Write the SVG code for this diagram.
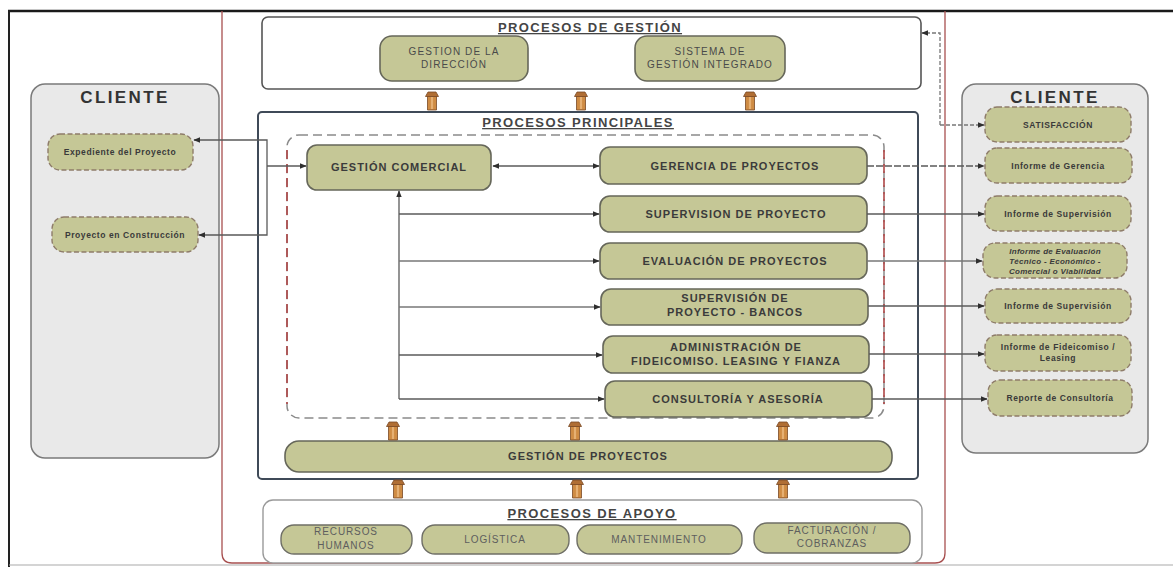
<svg xmlns="http://www.w3.org/2000/svg" xmlns:xlink="http://www.w3.org/1999/xlink" width="1173" height="567" viewBox="0 0 1173 567">
  <style>
    text { font-family: "Liberation Sans", Arial, sans-serif; fill: #3b3b3b; text-anchor: middle; }
    .node { fill: #c5c796; stroke: #66675a; stroke-width: 1.6; }
    .cnode { fill: #c5c796; stroke: #8e7c6a; stroke-width: 1.4; stroke-dasharray: 5 2.5; }
    .snode { fill: #c5c796; stroke: #6f6f66; stroke-width: 1.4; }
    .t-main { font-size: 11px; font-weight: bold; letter-spacing: 1px; }
    .t-top { font-size: 10px; letter-spacing: 1.1px; fill: #4a4a4a; }
    .t-sup { font-size: 10px; letter-spacing: 0.9px; fill: #5e5e5e; }
    .t-cli { font-size: 8.5px; font-weight: bold; letter-spacing: 0.6px; fill: #3a3a3a; }
    .t-eval { font-size: 8px; font-weight: bold; font-style: italic; letter-spacing: 0.3px; fill: #3a3a3a; }
    .t-title { font-size: 13px; font-weight: bold; letter-spacing: 1.4px; fill: #454545; text-decoration: underline; }
    .t-cliente { font-size: 17px; font-weight: bold; letter-spacing: 2.4px; fill: #333; }
    .conn { fill: none; stroke: #5a5a5a; stroke-width: 1.3; }
    .conn-l { fill: none; stroke: #777; stroke-width: 1.3; }
  </style>
  <defs>
    <marker id="ah" viewBox="0 0 10 10" refX="9" refY="5" markerWidth="7" markerHeight="7" markerUnits="userSpaceOnUse" orient="auto-start-reverse">
      <path d="M0,1 L10,5 L0,9 Z" fill="#2f2f2f"/>
    </marker>
    <g id="up-arrow">
      <path d="M-4.5,4 L4.5,4 L4.5,18 L-4.5,18 Z" fill="#cf8c44" stroke="#7a4a26" stroke-width="0.8"/>
      <path d="M-6.5,4.5 L-4,0 L4,0 L6.5,4.5 Z" fill="#b06e34" stroke="#7a4a26" stroke-width="0.8"/>
      <line x1="0" y1="5" x2="0" y2="17" stroke="#e6b073" stroke-width="2.2"/>
    </g>
  </defs>

  <rect width="1173" height="567" fill="#ffffff"/>

  <!-- outer frame -->
  <line x1="8" y1="11" x2="1173" y2="11" stroke="#1a1a1a" stroke-width="2.5"/>
  <line x1="9" y1="10" x2="9" y2="567" stroke="#222" stroke-width="2"/>
  <line x1="9" y1="565" x2="1173" y2="565" stroke="#aaa" stroke-width="1.2"/>
  <!-- organisation boundary -->
  <path d="M222,11 L222,553 Q222,563 232,563 L935,563 Q945,563 945,553 L945,11" fill="none" stroke="#a85050" stroke-width="1.3"/>

  <!-- left client panel -->
  <g id="cliente-izq">
    <rect x="31" y="84" width="188" height="374" rx="14" fill="#e9e9e9" stroke="#7a7a7a" stroke-width="1.5"/>
    <text x="125" y="103" class="t-cliente">CLIENTE</text>
  </g>
  <g id="expediente">
    <rect x="48" y="134" width="145" height="36" rx="12" class="cnode"/>
    <text x="120" y="155" class="t-cli">Expediente del Proyecto</text>
  </g>
  <g id="proyecto-construccion">
    <rect x="52" y="217" width="146" height="35" rx="12" class="cnode"/>
    <text x="125" y="238" class="t-cli">Proyecto en Construcción</text>
  </g>

  <!-- right client panel -->
  <g id="cliente-der">
    <rect x="962" y="84" width="186" height="369" rx="14" fill="#e9e9e9" stroke="#7a7a7a" stroke-width="1.5"/>
    <text x="1055" y="103" class="t-cliente">CLIENTE</text>
  </g>
  <g id="satisfaccion">
    <rect x="985" y="107" width="146" height="35" rx="12" class="cnode"/>
    <text x="1058" y="128" class="t-cli" letter-spacing="1">SATISFACCIÓN</text>
  </g>
  <g id="inf-gerencia">
    <rect x="985" y="148" width="147" height="35" rx="12" class="cnode"/>
    <text x="1058" y="169" class="t-cli">Informe de Gerencia</text>
  </g>
  <g id="inf-supervision">
    <rect x="985" y="196" width="146" height="35" rx="12" class="cnode"/>
    <text x="1058" y="217" class="t-cli">Informe de Supervisión</text>
  </g>
  <g id="inf-evaluacion">
    <rect x="983" y="243" width="144" height="35" rx="12" class="cnode"/>
    <text x="1055" y="254" class="t-eval">Informe de Evaluación</text>
    <text x="1055" y="264" class="t-eval">Técnico - Económico -</text>
    <text x="1055" y="274" class="t-eval">Comercial o Viabilidad</text>
  </g>
  <g id="inf-supervision-bancos">
    <rect x="985" y="289" width="146" height="34" rx="12" class="cnode"/>
    <text x="1058" y="309" class="t-cli">Informe de Supervisión</text>
  </g>
  <g id="inf-fideicomiso">
    <rect x="985" y="335" width="146" height="36" rx="12" class="cnode"/>
    <text x="1058" y="350" class="t-cli">Informe de Fideicomiso /</text>
    <text x="1058" y="361" class="t-cli">Leasing</text>
  </g>
  <g id="rep-consultoria">
    <rect x="988" y="380" width="144" height="36" rx="12" class="cnode"/>
    <text x="1060" y="401" class="t-cli">Reporte de Consultoría</text>
  </g>

  <!-- management processes -->
  <g id="procesos-gestion">
    <rect x="262" y="17" width="659" height="72" rx="6" fill="#fff" stroke="#555" stroke-width="1.6"/>
    <text x="590" y="32" class="t-title">PROCESOS DE GESTIÓN</text>
  </g>
  <g id="gestion-direccion">
    <rect x="380" y="36" width="148" height="45" rx="12" class="node"/>
    <text x="454" y="55" class="t-top">GESTION DE LA</text>
    <text x="454" y="68" class="t-top">DIRECCIÓN</text>
  </g>
  <g id="sistema-gestion">
    <rect x="635" y="36" width="150" height="45" rx="12" class="node"/>
    <text x="710" y="55" class="t-top">SISTEMA DE</text>
    <text x="710" y="68" class="t-top">GESTIÓN INTEGRADO</text>
  </g>

  <!-- main processes -->
  <g id="procesos-principales">
    <rect x="258" y="112" width="660" height="367" rx="4" fill="#fff" stroke="#3f4a58" stroke-width="2"/>
    <text x="578" y="127" class="t-title">PROCESOS PRINCIPALES</text>
    <rect x="287" y="135" width="597" height="283" rx="12" fill="none" stroke="#8a8a8a" stroke-width="1.5" stroke-dasharray="9 5"/>
    <line x1="287" y1="150" x2="287" y2="404" stroke="#b04848" stroke-width="1.6" stroke-dasharray="9 5"/>
    <line x1="884" y1="150" x2="884" y2="404" stroke="#b04848" stroke-width="1.6" stroke-dasharray="9 5"/>
  </g>
  <g id="gestion-comercial">
    <rect x="307" y="145" width="184" height="45" rx="10" class="node"/>
    <text x="399" y="171" class="t-main">GESTIÓN COMERCIAL</text>
  </g>
  <g id="gerencia-proyectos">
    <rect x="600" y="147" width="267" height="37" rx="10" class="node"/>
    <text x="735" y="170" class="t-main">GERENCIA DE PROYECTOS</text>
  </g>
  <g id="supervision-proyecto">
    <rect x="600" y="196" width="267" height="36" rx="10" class="node"/>
    <text x="736" y="218" class="t-main">SUPERVISION DE PROYECTO</text>
  </g>
  <g id="evaluacion-proyectos">
    <rect x="600" y="243" width="267" height="36" rx="10" class="node"/>
    <text x="735" y="265" class="t-main">EVALUACIÓN DE PROYECTOS</text>
  </g>
  <g id="supervision-bancos">
    <rect x="601" y="289" width="267" height="36" rx="10" class="node"/>
    <text x="735" y="302" class="t-main">SUPERVISIÓN DE</text>
    <text x="735" y="316" class="t-main">PROYECTO - BANCOS</text>
  </g>
  <g id="administracion-fideicomiso">
    <rect x="603" y="336" width="266" height="37" rx="10" class="node"/>
    <text x="736" y="351" class="t-main">ADMINISTRACIÓN DE</text>
    <text x="736" y="365" class="t-main">FIDEICOMISO. LEASING Y FIANZA</text>
  </g>
  <g id="consultoria-asesoria">
    <rect x="605" y="381" width="267" height="36" rx="10" class="node"/>
    <text x="738" y="403" class="t-main">CONSULTORÍA Y  ASESORÍA</text>
  </g>
  <g id="gestion-proyectos">
    <rect x="285" y="441" width="607" height="31" rx="14" class="node"/>
    <text x="588" y="460" class="t-main" font-size="10.5">GESTIÓN DE PROYECTOS</text>
  </g>

  <!-- support processes -->
  <g id="procesos-apoyo">
    <rect x="263" y="500" width="659" height="63" rx="10" fill="#fff" stroke="#9a9a9a" stroke-width="1.4"/>
    <text x="592" y="518" class="t-title" fill="#3a3a3a">PROCESOS DE APOYO</text>
  </g>
  <g id="recursos-humanos">
    <rect x="281" y="525" width="131" height="29" rx="13" class="snode"/>
    <text x="346" y="535" class="t-sup">RECURSOS</text>
    <text x="346" y="549" class="t-sup">HUMANOS</text>
  </g>
  <g id="logistica">
    <rect x="422" y="525" width="147" height="29" rx="13" class="snode"/>
    <text x="495" y="543" class="t-sup">LOGÍSTICA</text>
  </g>
  <g id="mantenimiento">
    <rect x="577" y="525" width="165" height="29" rx="13" class="snode"/>
    <text x="659" y="543" class="t-sup">MANTENIMIENTO</text>
  </g>
  <g id="facturacion">
    <rect x="754" y="523" width="156" height="30" rx="13" class="snode"/>
    <text x="832" y="534" class="t-sup">FACTURACIÓN /</text>
    <text x="832" y="547" class="t-sup">COBRANZAS</text>
  </g>

  <!-- connectors -->
  <g id="connectors">
    <!-- flow between process layers -->
    <use xlink:href="#up-arrow" href="#up-arrow" x="432" y="92"/>
    <use xlink:href="#up-arrow" href="#up-arrow" x="581" y="92"/>
    <use xlink:href="#up-arrow" href="#up-arrow" x="750" y="92"/>
    <use xlink:href="#up-arrow" href="#up-arrow" x="393" y="422"/>
    <use xlink:href="#up-arrow" href="#up-arrow" x="575" y="422"/>
    <use xlink:href="#up-arrow" href="#up-arrow" x="783" y="422"/>
    <use xlink:href="#up-arrow" href="#up-arrow" x="398" y="480"/>
    <use xlink:href="#up-arrow" href="#up-arrow" x="577" y="480"/>
    <use xlink:href="#up-arrow" href="#up-arrow" x="783" y="480"/>

    <!-- client inputs/outputs on the left -->
    <path d="M267,166 L267,140 L194,140" class="conn" marker-end="url(#ah)"/>
    <path d="M267,166 L267,235 L199,235" class="conn" marker-end="url(#ah)"/>
    <path d="M267,166 L306,166" class="conn" marker-end="url(#ah)"/>

    <!-- commercial management to project services -->
    <path d="M493,166 L599,166" class="conn" marker-start="url(#ah)" marker-end="url(#ah)"/>
    <path d="M399,399 L399,191" class="conn" marker-end="url(#ah)"/>
    <path d="M399,214 L599,214" class="conn" marker-end="url(#ah)"/>
    <path d="M399,261 L599,261" class="conn-l" marker-end="url(#ah)"/>
    <path d="M399,307 L600,307" class="conn-l" marker-end="url(#ah)"/>
    <path d="M399,355 L602,355" class="conn" marker-end="url(#ah)"/>
    <path d="M399,399 L604,399" class="conn" marker-end="url(#ah)"/>

    <!-- deliverables to the client -->
    <path d="M867,166 L984,166" class="conn" stroke-dasharray="7 2" marker-end="url(#ah)"/>
    <path d="M867,214 L984,214" class="conn" marker-end="url(#ah)"/>
    <path d="M867,261 L982,261" class="conn-l" marker-end="url(#ah)"/>
    <path d="M868,306 L984,306" class="conn" marker-end="url(#ah)"/>
    <path d="M869,354 L984,354" class="conn" marker-end="url(#ah)"/>
    <path d="M872,399 L987,399" class="conn" marker-end="url(#ah)"/>

    <!-- satisfaction feedback to management -->
    <path d="M940,125 L984,125" class="conn-l" stroke-dasharray="4 2" marker-end="url(#ah)"/>
    <path d="M940,125 L940,33 L922,33" class="conn-l" stroke-dasharray="4 2" marker-end="url(#ah)"/>
  </g>
</svg>
